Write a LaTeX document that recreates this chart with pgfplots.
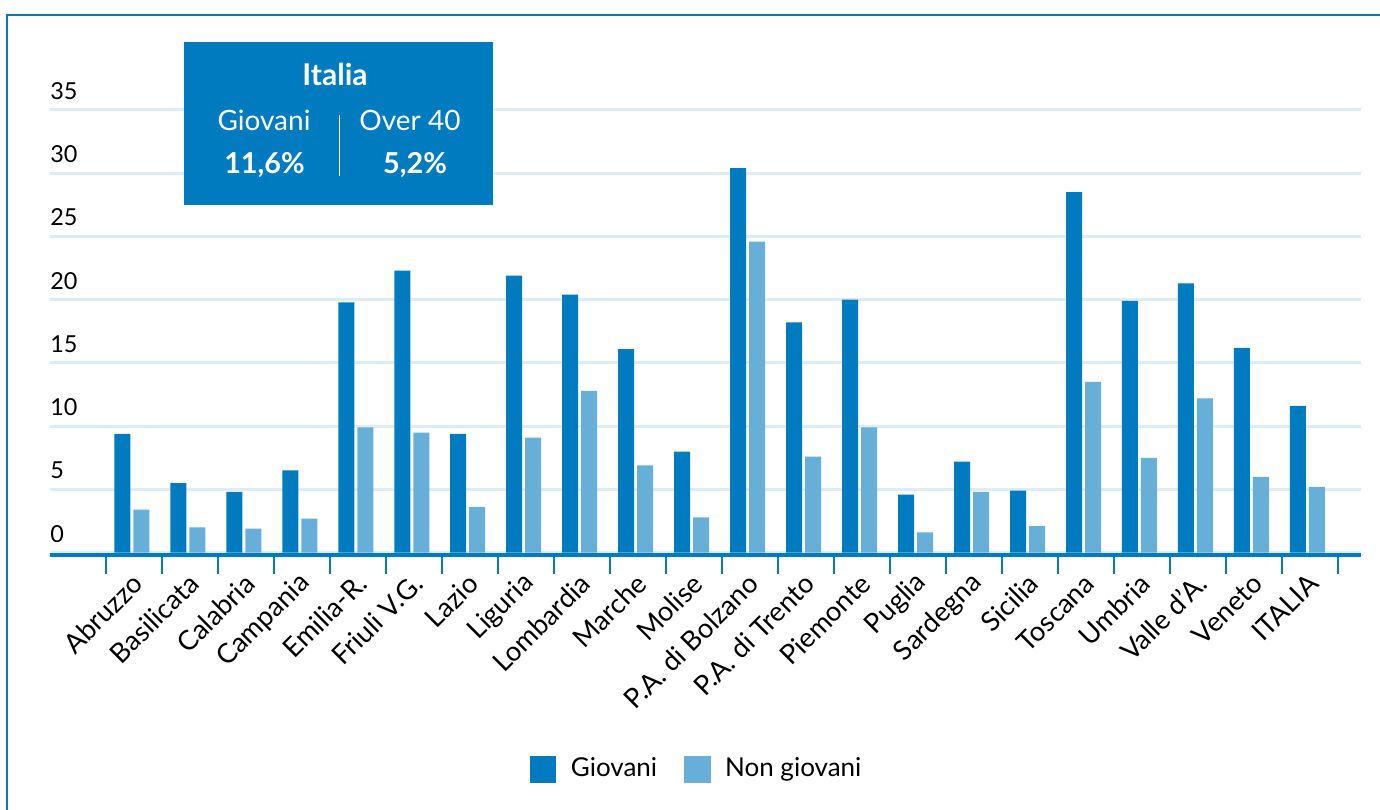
\documentclass[border=0pt]{standalone}
\usepackage{pgfplots}
\pgfplotsset{compat=1.18}
\usepackage{fontspec}
\setmainfont{Lato}
\definecolor{dblue}{RGB}{0,123,192}
\definecolor{lblue}{RGB}{103,174,216}
\definecolor{gridc}{RGB}{221,236,247}
\begin{document}
\begin{tikzpicture}
\path[use as bounding box] (0,0) rectangle (690bp,405bp);
\draw[dblue, line width=1bp] (3.5bp,0) -- (3.5bp,397.5bp) -- (690bp,397.5bp);
\begin{axis}[
  at={(25bp,128.65bp)}, anchor=south west,
  scale only axis, width=655.5bp, height=221.35bp,
  xmin=-1.5, xmax=21.92, ymin=0, ymax=35,
  clip=false,
  axis x line*=bottom, axis y line*=left,
  x axis line style={draw=none},
  y axis line style={draw=none},
  ytick={0,5,...,35},
  ymajorgrids, grid style={line width=1.5bp, draw=gridc},
  major y tick style={draw=none},
  /pgf/number format/assume math mode=true,
  yticklabel style={anchor=base west, inner sep=0pt, yshift=5.3bp, font=\fontsize{11.7bp}{14bp}\selectfont},
  xtick={0,...,21},
  xticklabels={{Abruzzo},{Basilicata},{Calabria},{Campania},{Emilia-R.},{Friuli V.G.},{Lazio},{Liguria},{Lombardia},{Marche},{Molise},{P.A. di Bolzano},{P.A. di Trento},{Piemonte},{Puglia},{Sardegna},{Sicilia},{Toscana},{Umbria},{Valle d'A.},{Veneto},{ITALIA}},
  xticklabel style={xshift=2bp, yshift=-13bp, rotate=45, anchor=east, inner sep=0pt, font=\fontsize{13.6bp}{15bp}\selectfont},
  minor xtick={-0.5,0.5,...,21.5},
  xtick align=outside,
  major tick length=0pt,
  minor tick length=10.6bp,
  major x tick style={draw=none},
  minor x tick style={line width=1bp, draw=dblue},
  legend columns=2,
  legend style={draw=none, fill=none, at={(0.494,-0.4886)}, anchor=center,
    font=\fontsize{13bp}{15bp}\selectfont,
    /tikz/every even column/.append style={column sep=11.5bp}},
  legend cell align=left,
  legend image code/.code={\fill[#1,draw=none] (0bp,-7bp) rectangle (13.3bp,6.3bp); \path (18.5bp,0bp);},
]
\addplot[ybar, bar width=8bp, bar shift=-5.8bp, fill=dblue, draw=none] coordinates {
(0,9.4) (1,5.5) (2,4.8) (3,6.5) (4,19.8) (5,22.3) (6,9.4) (7,21.9) (8,20.4) (9,16.1) (10,8.0)
(11,30.4) (12,18.2) (13,20.0) (14,4.6) (15,7.2) (16,4.9) (17,28.5) (18,19.9) (19,21.3) (20,16.2) (21,11.6)};
\addlegendentry{Giovani}
\addplot[ybar, bar width=8bp, bar shift=3.7bp, fill=lblue, draw=none] coordinates {
(0,3.4) (1,2.0) (2,1.9) (3,2.7) (4,9.9) (5,9.5) (6,3.6) (7,9.1) (8,12.8) (9,6.9) (10,2.8)
(11,24.6) (12,7.6) (13,9.9) (14,1.6) (15,4.8) (16,2.1) (17,13.5) (18,7.5) (19,12.2) (20,6.0) (21,5.2)};
\addlegendentry{Non giovani}
\draw[dblue, line width=2.2bp] ([yshift=-1.1bp]axis cs:-1.5,0) -- ([yshift=-1.1bp]axis cs:21.92,0);
\end{axis}
\fill[dblue] (92bp,302.5bp) rectangle (246.5bp,384bp);
\node[anchor=base, text=white, inner sep=0pt, font=\fontsize{15bp}{18bp}\selectfont\bfseries] at (167.5bp,362bp) {Italia};
\node[anchor=base, text=white, inner sep=0pt, font=\fontsize{14bp}{17bp}\selectfont] at (132bp,339.65bp) {Giovani};
\node[anchor=base, text=white, inner sep=0pt, font=\fontsize{14bp}{17bp}\selectfont] at (205bp,339.65bp) {Over 40};
\node[anchor=base, text=white, inner sep=0pt, font=\fontsize{14.4bp}{17bp}\selectfont\bfseries] at (132.25bp,318bp) {11,6\%};
\node[anchor=base, text=white, inner sep=0pt, font=\fontsize{14.4bp}{17bp}\selectfont\bfseries] at (207.5bp,318bp) {5,2\%};
\draw[white, line width=0.75bp] (169.65bp,317bp) -- (169.65bp,347.5bp);
\end{tikzpicture}
\end{document}
